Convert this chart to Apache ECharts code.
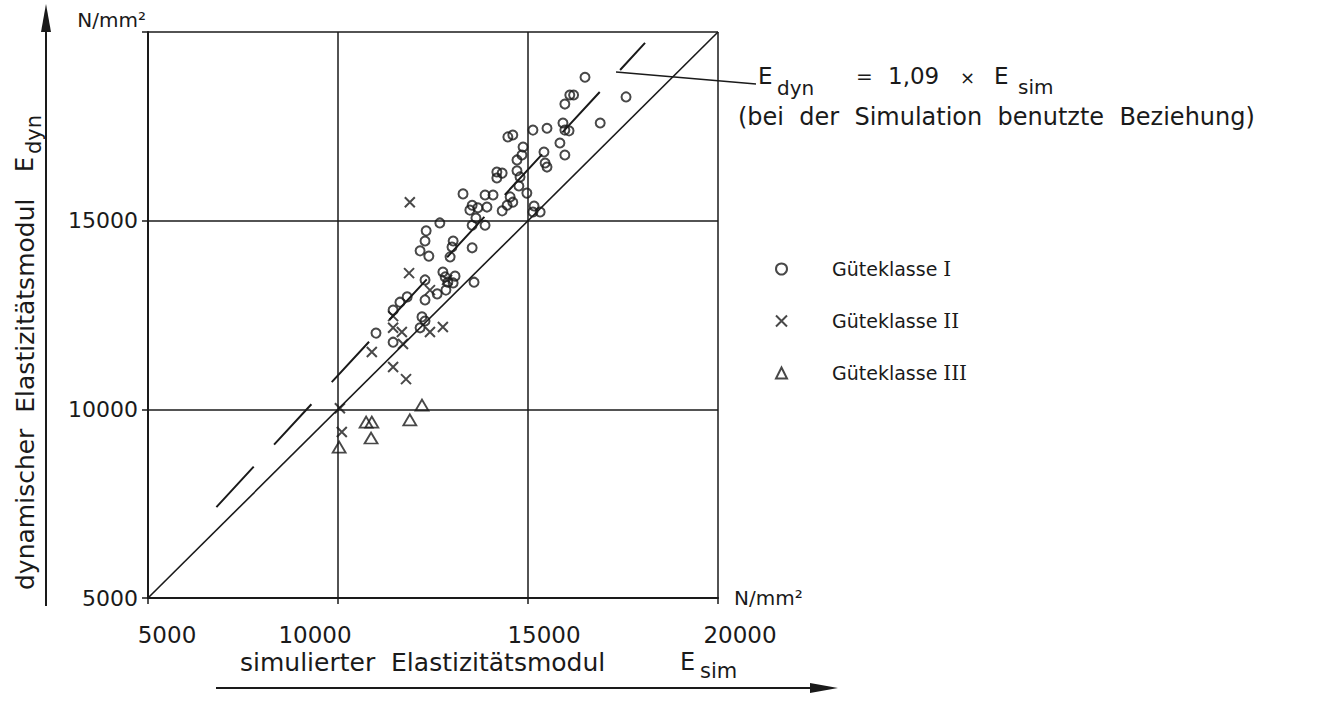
<!DOCTYPE html>
<html>
<head>
<meta charset="utf-8">
<script src="https://cdn.jsdelivr.net/npm/echarts@6/dist/echarts.min.js"></script>
<style>
  html, body { margin: 0; padding: 0; background: #fff; }
  #chart { width: 1336px; height: 702px; }
</style>
</head>
<body>
<div id="chart"></div>
<script>
// Messpunkte [E_sim, E_dyn] in N/mm2
var klasse1 = [
  [16500,18800],[16100,18330],[16200,18330],[17580,18280],[15970,18090],[16900,17590],
  [15920,17590],[15130,17400],[15500,17450],[15970,17400],[16080,17380],[14470,17220],
  [14600,17270],[15840,17060],[14870,16950],[15420,16820],[15970,16740],[14840,16740],
  [14710,16610],[15450,16530],[15500,16420],[14180,16290],[14320,16260],[14180,16130],
  [14710,16320],[14790,16160],[14760,15920],[14970,15730],[13290,15710],[13870,15680],
  [14080,15680],[14530,15630],[14600,15490],[14450,15410],[14320,15260],[13920,15360],
  [15160,15390],[15130,15230],[15320,15230],[13530,15410],[13470,15280],[13680,15340],
  [12680,14940],[13630,15070],[13530,14880],[13870,14880],[12320,14730],[12290,14460],
  [13030,14460],[13000,14300],[12160,14200],[12390,14060],[13530,14280],[12950,14040],
  [12760,13640],[13080,13530],[12290,13430],[12820,13510],[12890,13370],[12840,13160],
  [13030,13350],[13580,13370],[12610,13060],[12290,12900],[11450,12630],[11630,12840],
  [11820,12980],[12210,12450],[12290,12340],[11000,12020],[12160,12160],[11450,11780]
];
var klasse2 = [
  [11890,15490],[11870,13610],[12870,13430],[12420,13160],[11450,12470],[11450,12160],
  [11680,12050],[12420,12050],[12760,12180],[11710,11730],[10890,11520],[11450,11120],
  [11790,10800],[10050,10030],[10100,9400]
];
var klasse3 = [
  [12210,10110],[10740,9660],[10890,9660],[11890,9720],[10870,9240],[10030,9000]
];

var gleichLinie = [[5000,5000],[20000,20000]];
var simLinie = [[6800,7410],[18080,19710]];

var achsenTicks = [5000, 10000, 15000, 20000];
var klassenNamen = ['Güteklasse I', 'Güteklasse II', 'Güteklasse III'];

var schrift = 'DejaVu Sans';
var farbe = '#1a1a1a';

function txt(text, x, y, size, align) {
  return {
    type: 'text', x: x, y: y, silent: true,
    style: {
      text: text, fill: farbe, font: size + 'px "' + schrift + '"',
      fontSize: size, fontFamily: schrift,
      align: align || 'left', textAlign: align || 'left',
      verticalAlign: 'middle', textVerticalAlign: 'middle'
    }
  };
}

var myChart = echarts.init(document.getElementById('chart'), null, { renderer: 'svg' });

// Versatz der x-Beschriftung wie im Original (handgesetzt)
var xLabelRich = {
  p5000: { padding: [0, 0, 0, 38] },
  p10000: { padding: [0, 46, 0, 0] },
  p15000: { padding: [0, 0, 0, 32] },
  p20000: { padding: [0, 0, 0, 44] }
};

var option = {
  backgroundColor: '#fff',
  animation: false,
  textStyle: { fontFamily: schrift, color: farbe },
  grid: { left: 148, top: 32, width: 570, height: 566 },
  xAxis: {
    type: 'value', min: 5000, max: 20000, interval: 5000,
    name: 'N/mm²', nameLocation: 'end', nameGap: 16,
    nameTextStyle: { fontSize: 20, color: farbe, padding: [14, 0, 0, 0] },
    axisLine: { lineStyle: { color: farbe, width: 2 } },
    axisTick: { show: true, length: 6, lineStyle: { color: farbe, width: 1.5 } },
    splitLine: { show: true, lineStyle: { color: farbe, width: 1.5 } },
    axisLabel: {
      margin: 25, fontSize: 23, color: farbe,
      formatter: function (v) { return '{p' + v + '|' + v + '}'; },
      rich: xLabelRich
    }
  },
  yAxis: {
    type: 'value', min: 5000, max: 20000, interval: 5000,
    name: 'N/mm²', nameLocation: 'end', nameGap: 2,
    nameTextStyle: { fontSize: 20, color: farbe, align: 'right', padding: [0, 2, 0, 0] },
    axisLine: { lineStyle: { color: farbe, width: 2 } },
    axisTick: { show: true, length: 6, lineStyle: { color: farbe, width: 1.5 } },
    splitLine: { show: true, lineStyle: { color: farbe, width: 1.5 } },
    axisLabel: {
      margin: 10, fontSize: 22, color: farbe,
      formatter: function (v) { return v === 20000 ? '' : String(v); }
    }
  },
  legend: {
    orient: 'vertical', left: 770, top: 254,
    itemWidth: 11, itemHeight: 11, itemGap: 32,
    data: klassenNamen,
    formatter: function (n) {
      var teil = n.split(' ');
      return '{t|' + teil[0] + '}{r|' + teil[1] + '}';
    },
    textStyle: {
      fontSize: 19, color: farbe,
      rich: {
        t: { fontSize: 19, fontFamily: schrift, padding: [0, 6, 0, 40] },
        r: { fontSize: 20, fontFamily: 'DejaVu Serif' }
      }
    }
  },
  series: [
    {
      name: 'gleich', type: 'line', data: gleichLinie, symbol: 'none', silent: true,
      lineStyle: { color: farbe, width: 1.6 }
    },
    {
      name: 'sim', type: 'line', data: simLinie, symbol: 'none', silent: true,
      lineStyle: { color: farbe, width: 2, type: [55, 30] }
    },
    {
      name: klassenNamen[0], type: 'scatter', data: klasse1,
      symbol: 'circle', symbolSize: 9,
      itemStyle: { color: 'rgba(0,0,0,0)', borderColor: farbe, borderWidth: 2 }
    },
    {
      name: klassenNamen[1], type: 'scatter', data: klasse2,
      symbol: 'path://M0,0L10,10M10,0L0,10', symbolSize: 10,
      itemStyle: { color: 'rgba(0,0,0,0)', borderColor: farbe, borderWidth: 2 }
    },
    {
      name: klassenNamen[2], type: 'scatter', data: klasse3,
      symbol: 'triangle', symbolSize: [13, 11],
      itemStyle: { color: 'rgba(0,0,0,0)', borderColor: farbe, borderWidth: 1.8 }
    }
  ],
  graphic: [
    // Achsenpfeile
    { type: 'line', silent: true, shape: { x1: 46, y1: 606, x2: 46, y2: 28 }, style: { stroke: farbe, lineWidth: 2 } },
    { type: 'polygon', silent: true, shape: { points: [[46, 4], [41, 32], [51, 32]] }, style: { fill: farbe } },
    { type: 'line', silent: true, shape: { x1: 216, y1: 688, x2: 815, y2: 688 }, style: { stroke: farbe, lineWidth: 2 } },
    { type: 'polygon', silent: true, shape: { points: [[838, 688], [810, 683], [810, 693]] }, style: { fill: farbe } },
    // y-Titel, gedreht (lokal x = nach oben)
    {
      type: 'group', x: 25, y: 0, rotation: Math.PI / 2, silent: true,
      children: [
        txt('dynamischer  Elastizitätsmodul', -590, 0, 25),
        txt('E', -172, 0, 24),
        txt('dyn', -154, 9, 21)
      ]
    },
    // x-Titel
    txt('simulierter  Elastizitätsmodul', 240, 662, 25),
    txt('E', 680, 662, 24),
    txt('sim', 700, 671, 21),
    // Beschriftung der Geraden
    { type: 'line', silent: true, shape: { x1: 616, y1: 72, x2: 756, y2: 84 }, style: { stroke: farbe, lineWidth: 1.5 } },
    txt('E', 758, 76, 23),
    txt('dyn', 777, 88, 20),
    txt('=', 856, 76, 20),
    txt('1,09', 888, 76, 23),
    txt('×', 960, 77, 18),
    txt('E', 994, 76, 23),
    txt('sim', 1018, 87, 20),
    txt('(bei  der  Simulation  benutzte  Beziehung)', 738, 117, 24)
  ]
};

myChart.setOption(option);
</script>
</body>
</html>
